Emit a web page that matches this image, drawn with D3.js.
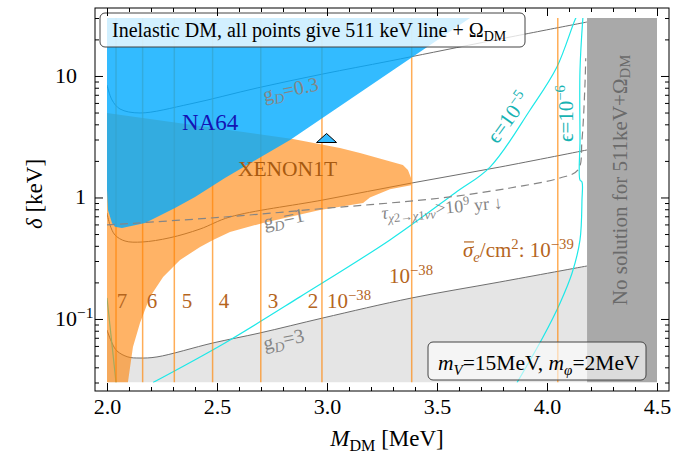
<!DOCTYPE html>
<html>
<head>
<meta charset="utf-8">
<style>
    body { margin: 0; background: white; }
    svg { font-family: 'Liberation Serif', 'Times New Roman', serif; }
</style>
</head>
<body>
<svg width="686" height="458"></svg>
<script src="https://d3js.org/d3.v7.min.js"></script>
<script>
    // axis ticks
    const xMajor = [2.0, 2.5, 3.0, 3.5, 4.0, 4.5];
    const xMinor = d3.range(2.0, 4.501, 0.1);
    const yMajor = [0.1, 1, 10];
    const yTickLabels = [["10", "−1"], ["1", ""], ["10", ""]];
    const yMinor = [0.01, 0.1, 1, 10].flatMap(d => [2, 3, 4, 5, 6, 7, 8, 9].map(k => k * d))
        .filter(v => v >= 0.03 && v <= 30);

    // regions, [M_DM in MeV, delta in keV]
    const na64 = [[2.0, 30], [3.65, 30], [2.832, 2.97], [2.536, 1.447], [2.40, 1.01], [2.309, 0.82],
        [2.173, 0.617], [2.068, 0.561], [2.036, 0.575], [2.0227, 0.617], [2.0045, 0.789], [2.0, 1.153]];
    const xenon1t = [[2.0, 4.96], [2.423, 3.88], [2.845, 3.03], [3.059, 2.555], [3.15, 2.324], [3.345, 1.851],
        [3.368, 1.684], [3.382, 1.447], [3.382, 1.26], [3.286, 1.17], [3.195, 1.0], [3.164, 0.901],
        [2.968, 0.789], [2.709, 0.617], [2.559, 0.52], [2.482, 0.447], [2.423, 0.391], [2.332, 0.306],
        [2.255, 0.222], [2.195, 0.152], [2.15, 0.0927], [2.118, 0.0588], [2.095, 0.03], [2.0, 0.03]];
    const noSolution = [4.182, 4.5];

    // g_D contours
    const gD03 = [[2.0, 8.43], [2.0227, 6.35], [2.059, 5.35], [2.15, 4.96], [2.377, 5.88], [2.682, 7.96],
        [2.982, 10.39], [3.286, 13.29], [3.695, 18.69], [4.182, 27.8]];
    const gD1 = [[2.0, 0.745], [2.0136, 0.594], [2.0364, 0.491], [2.082, 0.438], [2.159, 0.43], [2.286, 0.466],
        [2.423, 0.55], [2.559, 0.691], [2.982, 0.954], [3.386, 1.316], [3.786, 1.78], [4.182, 2.46]];
    const gD3 = [[2.0, 0.0812], [2.0227, 0.0635], [2.0455, 0.0545], [2.095, 0.0487], [2.15, 0.0477],
        [2.227, 0.0487], [2.482, 0.0635], [2.695, 0.0767], [2.982, 0.102], [3.386, 0.149], [3.786, 0.2016],
        [4.182, 0.273]];

    // lifetime bound (dashed)
    const tauLine = [[2.0, 0.594], [2.536, 0.691], [3.014, 0.82], [3.286, 0.901], [3.559, 1.01], [3.832, 1.197],
        [4.059, 1.447], [4.141, 1.684], [4.159, 2.97], [4.173, 8.92], [4.176, 14]];

    // epsilon contours
    const eps5 = [[2.209, 0.03], [2.536, 0.0635], [2.877, 0.152], [3.286, 0.447], [3.582, 1.089], [3.741, 1.78],
        [3.923, 5.25], [4.045, 11.86], [4.127, 28.9], [4.14, 32]];
    const eps5Low = [[2.0, 0.149], [2.041, 0.03]];
    const eps6 = [[4.164, 31.8], [4.15, 11.2], [4.15, 2.97], [4.15, 1.39], [4.159, 1.342], [4.159, 0.954],
        [4.15, 0.447], [4.114, 0.239], [4.059, 0.135], [3.982, 0.0711], [3.864, 0.03]];

    // sigma_e contours (vertical), 7..2 x 1e-38, 1e-38, 1e-39
    const sigmaM = [2.041, 2.162, 2.306, 2.48, 2.699, 2.977, 3.385, 4.049];
    const sigmaDigits = ["7", "6", "5", "4", "3", "2"];
    const sigmaDigitM = [2.068, 2.205, 2.364, 2.532, 2.755, 2.936];

    const marker = [[2.998, 3.0]];

    const svg = d3.select("svg");
    const x = d3.scaleLinear().domain([2, 4.5]).range([107, 657]);
    const y = d3.scaleLog().domain([0.03, 30]).range([382.5, 18]);

    const line = d3.line().x(d => x(d[0])).y(d => y(d[1])).curve(d3.curveCatmullRom);
    const poly = d3.line().x(d => x(d[0])).y(d => y(d[1]));

    svg.append("rect").attr("width", 686).attr("height", 458).attr("fill", "white");

    svg.append("clipPath").attr("id", "plot")
        .append("rect").attr("x", 107).attr("y", 18).attr("width", 550).attr("height", 364.5);

    const plot = svg.append("g").attr("clip-path", "url(#plot)");

    // light gray below g_D = 3
    plot.append("path")
        .attr("d", d3.area().x(d => x(d[0])).y0(y(0.03)).y1(d => y(d[1])).curve(d3.curveCatmullRom)(gD3))
        .attr("fill", "#e5e5e5");

    // g_D lines
    plot.selectAll(".gd")
        .data([gD03, gD1, gD3])
        .join("path")
        .attr("d", line)
        .attr("fill", "none")
        .attr("stroke", "#6e6e6e")
        .attr("stroke-width", 1);

    // epsilon lines
    plot.selectAll(".eps")
        .data([eps5, eps5Low, eps6])
        .join("path")
        .attr("d", line)
        .attr("fill", "none")
        .attr("stroke", "#1ee8e8")
        .attr("stroke-width", 1.2);

    // sigma_e vertical lines
    plot.selectAll(".sig")
        .data(sigmaM)
        .join("line")
        .attr("x1", d => x(d)).attr("x2", d => x(d))
        .attr("y1", y(30)).attr("y2", y(0.03))
        .attr("stroke", "#ff8a10")
        .attr("stroke-opacity", 0.7)
        .attr("stroke-width", 1.5);

    // XENON1T region
    plot.append("path")
        .attr("d", poly(xenon1t) + "Z")
        .attr("fill", "rgb(255,128,0)")
        .attr("fill-opacity", 0.6);

    // NA64 region
    plot.append("path")
        .attr("d", poly(na64) + "Z")
        .attr("fill", "rgb(0,170,255)")
        .attr("fill-opacity", 0.8);

    // lifetime dashed
    plot.append("path")
        .attr("d", line(tauLine))
        .attr("fill", "none")
        .attr("stroke", "#858585")
        .attr("stroke-width", 1.2)
        .attr("stroke-dasharray", "8,5");

    // no solution band
    plot.append("rect")
        .attr("x", x(noSolution[0])).attr("width", x(noSolution[1]) - x(noSolution[0]))
        .attr("y", y(30)).attr("height", y(0.03) - y(30))
        .attr("fill", "#a9a9a9");

    // marker
    plot.selectAll(".mk")
        .data(marker)
        .join("path")
        .attr("d", d => {
            let cx = x(d[0]), cy = y(d[1]);
            return `M${cx},${cy - 6}L${cx + 10},${cy + 3}L${cx - 10},${cy + 3}Z`;
        })
        .attr("fill", "#33bbff")
        .attr("stroke", "black")
        .attr("stroke-width", 1);

    // rich text helper: parts = [text, "sub"/"sup"/"", italic]
    function rich(t, parts) {
        let fs = +t.attr("font-size");
        let shift = 0;
        parts.forEach(p => {
            let target = p[1] === "sub" ? 0.22 : p[1] === "sup" ? -0.38 : 0;
            let ts = t.append("tspan").text(p[0]).attr("dy", ((target - shift) * fs) + "px");
            shift = target;
            if (p[1]) ts.attr("font-size", fs * 0.7);
            if (p[2]) ts.attr("font-style", "italic");
        });
        return t;
    }

    function note(M, d, size, color, parts, opts = {}) {
        let t = svg.append("text")
            .attr("font-size", size)
            .attr("fill", color)
            .attr("text-anchor", opts.anchor || "start");
        let px = x(M), py = y(d);
        if (opts.rotate) t.attr("transform", `translate(${px},${py}) rotate(${opts.rotate})`);
        else t.attr("x", px).attr("y", py);
        rich(t, parts);
        return t;
    }

    note(2.341, 3.59, 23, "#1414b4", [["NA64"]]);
    note(2.595, 1.503, 21.5, "#a85a10", [["XENON1T"]]);

    const gdColor = "#858585";
    note(2.841, 6.84, 20, gdColor, [["g"], ["D", "sub", true], ["=0.3"]], { anchor: "middle", rotate: -12 });
    note(2.809, 0.594, 20, gdColor, [["g"], ["D", "sub", true], ["=1"]], { anchor: "middle", rotate: -11 });
    note(2.809, 0.060, 20, gdColor, [["g"], ["D", "sub", true], ["=3"]], { anchor: "middle", rotate: -12 });

    note(3.25, 0.665, 18, "#858585",
        [["τ", "", true], ["χ", "sub", true], ["2", "sub"], ["→", "sub"], ["χ", "sub", true], ["1", "sub"],
        ["νν", "sub", true], [">10"], ["9", "sup"], [" yr ↓"]], { rotate: -5 });

    const epsColor = "#17b3b3";
    note(3.85, 4.2, 21, epsColor, [["ϵ=10"], ["−5", "sup"]], { anchor: "middle", rotate: -54 });
    note(4.12, 4.9, 21, epsColor, [["ϵ=10"], ["−6", "sup"]], { anchor: "middle", rotate: -90 });

    const sigColor = "#b5651d";
    sigmaDigits.forEach((s, i) => note(sigmaDigitM[i], 0.123, 21, sigColor, [[s]], { anchor: "middle" }));
    note(3.0, 0.123, 21, sigColor, [["10"], ["−38", "sup"]]);
    note(3.282, 0.198, 21, sigColor, [["10"], ["−38", "sup"]]);
    note(3.618, 0.324, 21, sigColor, [["σ", "", true], ["e", "sub", true], ["/cm"], ["2", "sup"], [": 10"], ["−39", "sup"]]);

    note(4.332, 1.393, 21, "#6a6a6a", [["No solution for 511keV+Ω"], ["DM", "sub"]], { anchor: "middle", rotate: -90 })
        .attr("dominant-baseline", "central");

    // overline on sigma
    svg.append("line")
        .attr("x1", x(3.618) + 1).attr("x2", x(3.618) + 11)
        .attr("y1", y(0.324) - 15).attr("y2", y(0.324) - 15)
        .attr("stroke", sigColor).attr("stroke-width", 1.2);

    // legend boxes
    svg.append("rect").attr("x", 100).attr("y", 13).attr("width", 425).attr("height", 34).attr("rx", 5)
        .attr("fill", "white").attr("fill-opacity", 0.78).attr("stroke", "#444").attr("stroke-width", 1);
    rich(svg.append("text").attr("x", 112).attr("y", 37).attr("font-size", 20).attr("fill", "black"),
        [["Inelastic DM, all points give 511 keV line + Ω"], ["DM", "sub"]]);

    svg.append("rect").attr("x", 428).attr("y", 342).attr("width", 218).attr("height", 38).attr("rx", 5)
        .attr("fill", "white").attr("fill-opacity", 0.6).attr("stroke", "#444").attr("stroke-width", 1);
    rich(svg.append("text").attr("x", 438).attr("y", 370).attr("font-size", 21.5).attr("fill", "black"),
        [["m", "", true], ["V", "sub", true], ["=15MeV, "], ["m", "", true], ["φ", "sub", true], ["=2MeV"]]);

    // frame and ticks
    svg.append("rect").attr("x", 95).attr("y", 8).attr("width", 574).attr("height", 383)
        .attr("fill", "none").attr("stroke", "black").attr("stroke-width", 1);

    function ticks(axis, tr, labels) {
        let g = svg.append("g").attr("transform", tr).call(axis);
        g.select(".domain").remove();
        g.selectAll("text").attr("font-family", "'Liberation Serif', serif").attr("font-size", 22).attr("fill", "black");
        if (!labels) g.selectAll("text").remove();
        return g;
    }

    ticks(d3.axisBottom(x).tickValues(xMajor).tickSize(-8).tickPadding(7).tickFormat(d3.format(".1f")), "translate(0,391)", true);
    ticks(d3.axisBottom(x).tickValues(xMinor).tickSize(-4), "translate(0,391)");
    ticks(d3.axisTop(x).tickValues(xMajor).tickSize(-8), "translate(0,8)");
    ticks(d3.axisTop(x).tickValues(xMinor).tickSize(-4), "translate(0,8)");
    ticks(d3.axisLeft(y).tickValues(yMajor).tickSize(-8), "translate(95,0)");
    ticks(d3.axisLeft(y).tickValues(yMinor).tickSize(-4), "translate(95,0)");
    ticks(d3.axisRight(y).tickValues(yMajor).tickSize(-8), "translate(669,0)");
    ticks(d3.axisRight(y).tickValues(yMinor).tickSize(-4), "translate(669,0)");

    yMajor.forEach((v, i) => {
        let lab = yTickLabels[i];
        let t = svg.append("text").attr("y", y(v) + 7).attr("font-size", 22).attr("fill", "black");
        if (lab[0] === "10") t.attr("x", 55);
        else t.attr("x", 86).attr("text-anchor", "end");
        rich(t, lab[1] ? [[lab[0]], [lab[1], "sup"]] : [[lab[0]]]);
    });

    // axis titles
    rich(svg.append("text").attr("x", 387).attr("y", 446).attr("font-size", 23).attr("text-anchor", "middle"),
        [["M", "", true], ["DM", "sub"], [" [MeV]"]]);
    rich(svg.append("text").attr("transform", "translate(42,194) rotate(-90)").attr("font-size", 23)
        .attr("text-anchor", "middle"), [["δ", "", true], [" [keV]"]]);
</script>
</body>
</html>
